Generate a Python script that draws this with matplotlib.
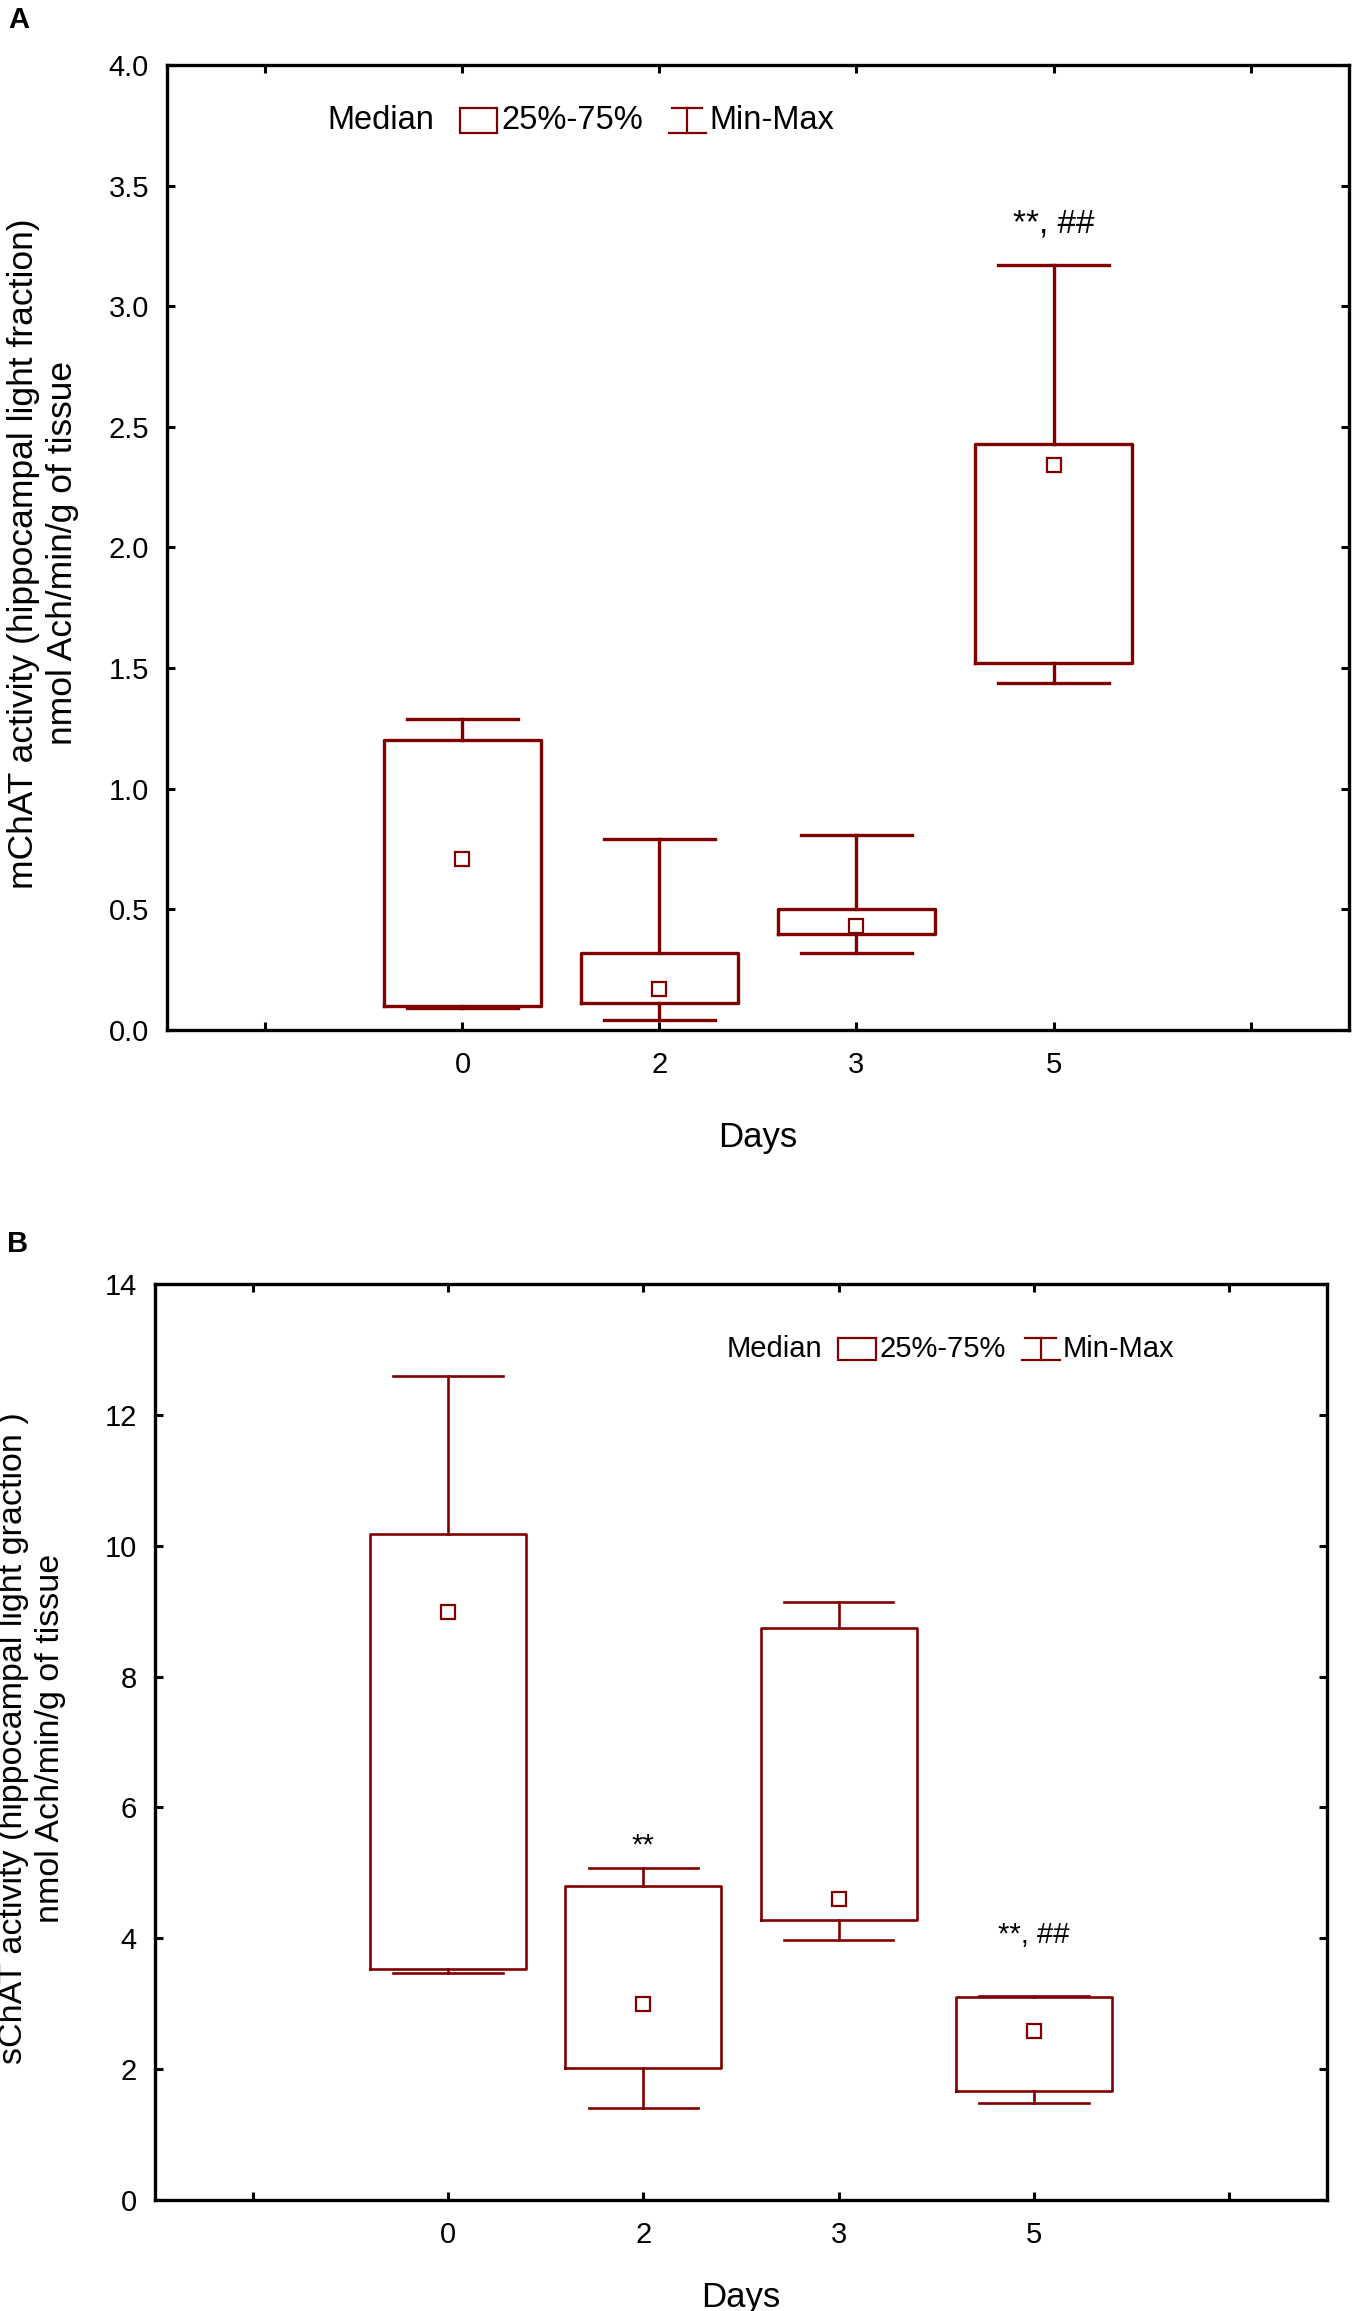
import matplotlib
matplotlib.use("Agg")
import matplotlib.pyplot as plt
from matplotlib.patches import Rectangle
from matplotlib.lines import Line2D
from matplotlib.legend_handler import HandlerBase

plt.rcParams['font.family'] = ['Liberation Sans', 'DejaVu Sans']

# ---------------- data ----------------
days = ['0', '2', '3', '5']

a_min = [0.09, 0.04, 0.32, 1.44]
a_q1 = [0.10, 0.11, 0.40, 1.52]
a_med = [0.71, 0.17, 0.43, 2.34]
a_q3 = [1.20, 0.32, 0.50, 2.43]
a_max = [1.29, 0.79, 0.81, 3.17]

b_min = [3.47, 1.41, 3.98, 1.49]
b_q1 = [3.53, 2.02, 4.28, 1.66]
b_med = [8.99, 3.00, 4.60, 2.59]
b_q3 = [10.18, 4.80, 8.74, 3.10]
b_max = [12.60, 5.08, 9.14, 3.12]

a_marks = {'5': '**, ##'}
a_mark_y = [3.34]
b_marks = {'2': '**', '5': '**, ##'}
b_mark_y = [5.42, 4.05]

legend_labels = ['Median', '25%-75%', 'Min-Max']

COL = '#800000'


class MinMaxHandle(Line2D):
    pass


class MedianHandle(Line2D):
    pass


class BoxHandler(HandlerBase):
    def create_artists(self, legend, orig_handle, xdescent, ydescent,
                       width, height, fontsize, trans):
        r = Rectangle((-xdescent, -ydescent - height * 0.15), width, height * 1.1,
                      facecolor='none', edgecolor=COL, lw=1.6, transform=trans)
        return [r]


class IBeamHandler(HandlerBase):
    def create_artists(self, legend, orig_handle, xdescent, ydescent,
                       width, height, fontsize, trans):
        x0 = -xdescent
        y0 = -ydescent - height * 0.15
        y1 = y0 + height * 1.1
        xm = x0 + width / 2
        return [Line2D([x0, x0 + width], [y0, y0], color=COL, lw=1.6, transform=trans),
                Line2D([x0 + width * 0.1, x0 + width * 0.9], [y1, y1], color=COL, lw=1.6, transform=trans),
                Line2D([xm, xm], [y0, y1], color=COL, lw=1.6, transform=trans)]


class NoneHandler(HandlerBase):
    def create_artists(self, legend, orig_handle, xdescent, ydescent,
                       width, height, fontsize, trans):
        return [Line2D([], [], transform=trans)]


def panel(ax, mins, q1, med, q3, maxs, ylim, yticks, yfmt, ylabel, marks, mark_y,
          lw, leg_anchor, leg_font, leg_hl, leg_cs, xlabel_pad, ylab_y, ylab_fs,
          mark_fs):
    stats = []
    for i in range(len(days)):
        stats.append(dict(med=med[i], q1=q1[i], q3=q3[i], whislo=mins[i],
                          whishi=maxs[i], mean=med[i], fliers=[]))
    pos = list(range(1, len(days) + 1))
    ax.bxp(stats, positions=pos, widths=0.8, capwidths=0.56, showmeans=True,
           showfliers=False,
           boxprops=dict(color=COL, lw=lw),
           whiskerprops=dict(color=COL, lw=lw),
           capprops=dict(color=COL, lw=lw),
           medianprops=dict(visible=False),
           meanprops=dict(marker='s', markersize=9.5, markerfacecolor='white',
                          markeredgecolor=COL, markeredgewidth=1.6))
    ax.set_xlim(-0.5, 5.5)
    ax.set_ylim(*ylim)
    ax.set_xticks(range(6))
    ax.set_xticklabels([''] + days + [''])
    ax.set_yticks(yticks)
    ax.set_yticklabels([yfmt.format(v) for v in yticks])
    ax.tick_params(direction='in', length=6, width=2.2, labelsize=21,
                   top=True, right=True)
    ax.tick_params(axis='y', pad=13)
    ax.tick_params(axis='x', pad=15)
    for s in ax.spines.values():
        s.set_linewidth(2.4)
    ax.set_xlabel('Days', fontsize=25, labelpad=xlabel_pad)
    ax.text(-0.105, ylab_y, ylabel, transform=ax.transAxes, rotation=90,
            ha='center', va='center', fontsize=ylab_fs, linespacing=1.22,
            multialignment='center')
    for (k, txt), yv in zip(marks.items(), mark_y):
        ax.text(days.index(k) + 1, yv, txt, ha='center', va='center', fontsize=mark_fs)
    hs = [MedianHandle([], []), Rectangle((0, 0), 1, 1), MinMaxHandle([], [])]
    ax.legend(hs, legend_labels,
              handler_map={MinMaxHandle: IBeamHandler(), MedianHandle: NoneHandler(),
                           Rectangle: BoxHandler()},
              ncol=3, frameon=False, loc='center left',
              bbox_to_anchor=leg_anchor, handlelength=leg_hl,
              handletextpad=0.12, columnspacing=leg_cs, borderpad=0,
              borderaxespad=0, prop=dict(size=leg_font))


fig = plt.figure(figsize=(13.55, 23.11), dpi=100)
axA = fig.add_axes([0.1232, 0.5543, 0.8724, 0.4176])
axB = fig.add_axes([0.1144, 0.0480, 0.8649, 0.3964])

panel(axA, a_min, a_q1, a_med, a_q3, a_max, (0, 4.0),
      [0, 0.5, 1, 1.5, 2, 2.5, 3, 3.5, 4], '{:.1f}',
      'mChAT activity (hippocampal light fraction)\nnmol Ach/min/g of tissue',
      a_marks, a_mark_y, lw=2.4, leg_anchor=(0.101, 0.942), leg_font=23.5,
      leg_hl=1.13, leg_cs=0.8, xlabel_pad=30, ylab_y=0.494, ylab_fs=25.5,
      mark_fs=24)

panel(axB, b_min, b_q1, b_med, b_q3, b_max, (0, 14),
      [0, 2, 4, 6, 8, 10, 12, 14], '{:.0f}',
      'sChAT activity (hippocampal light graction )\nnmol Ach/min/g of tissue',
      b_marks, b_mark_y, lw=1.9, leg_anchor=(0.452, 0.929), leg_font=21,
      leg_hl=1.3, leg_cs=0.55, xlabel_pad=23, ylab_y=0.504, ylab_fs=24.5,
      mark_fs=21)

fig.text(0.006, 0.9915, 'A', fontsize=21, fontweight='bold', va='center', ha='left')
fig.text(0.005, 0.4615, 'B', fontsize=21, fontweight='bold', va='center', ha='left')

fig.savefig('out.png', dpi=100, facecolor='white')
